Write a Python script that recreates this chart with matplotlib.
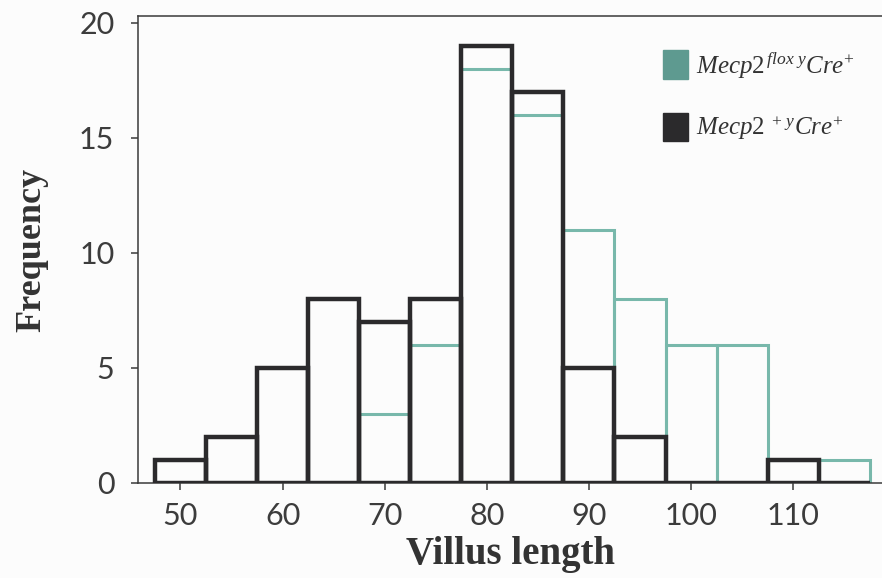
import matplotlib
matplotlib.use("Agg")
import matplotlib.pyplot as plt
from matplotlib.patches import Patch

# Histogram bins (centres, width 5) and counts per genotype
bin_centres = [50, 55, 60, 65, 70, 75, 80, 85, 90, 95, 100, 105, 110, 115]
wt_counts = [1, 2, 5, 8, 7, 8, 19, 17, 5, 2, 0, 0, 1, 0]        # Mecp2 +/y Cre+
flox_counts = [0, 0, 0, 0, 3, 6, 18, 16, 11, 8, 6, 6, 1, 1]     # Mecp2 flox/y Cre+
x_ticks = [50, 60, 70, 80, 90, 100, 110]
y_ticks = [0, 5, 10, 15, 20]

bin_width = 5
teal = "#78b8ab"
teal_swatch = "#5e9a90"
dark = "#2b2a2c"
axis_col = "#3a3a3a"

plt.rcParams["mathtext.fontset"] = "custom"
plt.rcParams["mathtext.it"] = "Liberation Serif:italic"
plt.rcParams["mathtext.rm"] = "Liberation Serif"

fig = plt.figure(figsize=(8.82, 5.78), dpi=100, facecolor="#fcfcfc")
ax = fig.add_axes([138 / 882, 95 / 578, 1 - 138 / 882, (483 - 16) / 578])
ax.set_facecolor("#fcfcfc")

ax.bar(bin_centres, flox_counts, width=bin_width, fill=False,
       edgecolor=teal, linewidth=2.2, zorder=2)
ax.bar(bin_centres, wt_counts, width=bin_width, fill=False,
       edgecolor=dark, linewidth=3.2, zorder=3)

ax.set_xlim(45.84, 118.7)
ax.set_ylim(0, 20.3)
ax.set_xticks(x_ticks)
ax.set_yticks(y_ticks)

for side in ("left", "top", "bottom"):
    ax.spines[side].set_color(axis_col)
    ax.spines[side].set_linewidth(1.1)
ax.spines["right"].set_visible(False)

ax.tick_params(axis="both", colors=axis_col, length=5, width=1.1,
               labelsize=22)
ax.tick_params(axis="y", pad=12)
ax.tick_params(axis="x", pad=9)
for lab in ax.get_xticklabels() + ax.get_yticklabels():
    lab.set_fontfamily("Lato")
    lab.set_color("#3c3c3c")

ax.set_xlabel("Villus length", fontfamily="Liberation Serif", fontweight="bold",
              fontsize=28, color="#333333", labelpad=4)
ax.set_ylabel("Frequency", fontfamily="Liberation Serif", fontweight="bold",
              fontsize=26, color="#333333", labelpad=22)

handles = [Patch(facecolor=teal_swatch, edgecolor=teal_swatch),
           Patch(facecolor=dark, edgecolor=dark)]
labels = [r"$\mathit{Mecp2}^{\,flox\ y}\mathit{Cre}^{+}$",
          r"$\mathit{Mecp2}^{\ +\,y}\mathit{Cre}^{+}$"]
fig.legend(handles, labels, loc="upper left",
           bbox_to_anchor=(663 / 882, (578 - 50) / 578),
           bbox_transform=fig.transFigure, frameon=False,
           fontsize=18, handlelength=1.0, handleheight=1.4,
           handletextpad=0.3, labelspacing=1.3, borderpad=0,
           borderaxespad=0, labelcolor="#333333")

fig.savefig("out.png", dpi=100, facecolor=fig.get_facecolor())
